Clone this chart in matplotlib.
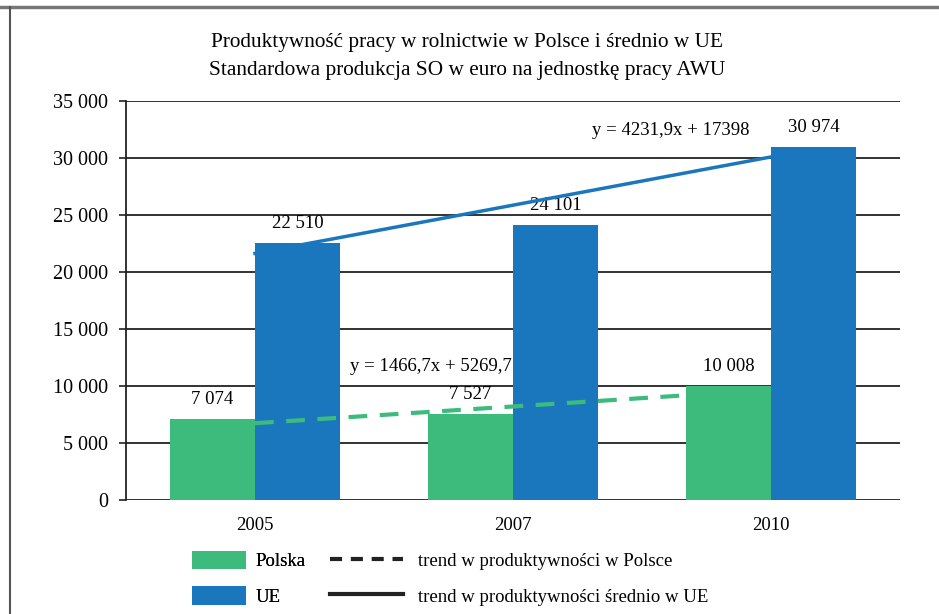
import matplotlib.pyplot as plt
import numpy as np
from matplotlib.lines import Line2D
from matplotlib.patches import Patch

plt.rcParams["font.family"] = ["Liberation Serif", "DejaVu Serif"]

years = ["2005", "2007", "2010"]
polska = [7074, 7527, 10008]
ue = [22510, 24101, 30974]
labels_polska = ["7 074", "7 527", "10 008"]
labels_ue = ["22 510", "24 101", "30 974"]

# linear trends, x = 1, 2, 3
trend_pl = (1466.7, 5269.7)
trend_ue = (4231.9, 17398)
eq_pl = "y = 1466,7x + 5269,7"
eq_ue = "y = 4231,9x + 17398"

yticks = [0, 5000, 10000, 15000, 20000, 25000, 30000, 35000]
ytick_labels = ["0", "5 000", "10 000", "15 000", "20 000", "25 000", "30 000", "35 000"]

GREEN = "#3dbb7d"
BLUE = "#1a77bd"
W, H = 939, 614

fig = plt.figure(figsize=(W / 100, H / 100), dpi=100)
ax = fig.add_axes([126 / W, (H - 500) / H, (900 - 126) / W, 399 / H])

x = np.arange(len(years))
bw = 0.33
ax.bar(x - bw / 2, polska, bw, color=GREEN, zorder=3)
ax.bar(x + bw / 2, ue, bw, color=BLUE, zorder=3)

for i in range(len(years)):
    ax.annotate(labels_polska[i], (x[i] - bw / 2, polska[i]), xytext=(0, 8),
                textcoords="offset points", ha="center", va="bottom", fontsize=13.5)
    ax.annotate(labels_ue[i], (x[i] + bw / 2, ue[i]), xytext=(0, 8),
                textcoords="offset points", ha="center", va="bottom", fontsize=13.5)

xt = np.array([1, 3])
ax.plot(xt - 1, trend_pl[0] * xt + trend_pl[1], color=GREEN, lw=3,
        dashes=(4.5, 3), zorder=4)
ax.plot(xt - 1, trend_ue[0] * xt + trend_ue[1], color=BLUE, lw=2.5, zorder=4)

ax.text(1.61, 32400, eq_ue, ha="center", va="center", fontsize=13.5)
ax.text(0.68, 11700, eq_pl, ha="center", va="center", fontsize=13.5)

ax.set_xlim(-0.5, 2.5)
ax.set_ylim(0, 35000)
ax.set_yticks(yticks)
ax.set_yticklabels(ytick_labels, fontsize=14.5)
ax.set_xticks(x)
ax.set_xticklabels(years, fontsize=13.5)
ax.tick_params(axis="x", length=0, pad=12)
ax.tick_params(axis="y", length=5, width=1.2, color="#222222", pad=8)
ax.grid(axis="y", color="#222222", lw=1.3, zorder=1)
for s in ["top", "right", "bottom"]:
    ax.spines[s].set_visible(False)
ax.spines["left"].set_linewidth(1.3)
ax.spines["left"].set_color("#222222")
ax.spines["left"].set_zorder(2)

fig.text(467 / W, 1 - 42 / H, "Produktywność pracy w rolnictwie w Polsce i średnio w UE",
         ha="center", va="center", fontsize=15.3)
fig.text(467 / W, 1 - 70 / H, "Standardowa produkcja SO w euro na jednostkę pracy AWU",
         ha="center", va="center", fontsize=15.3)

# legend: bars and trend lines as two separate columns
leg1 = fig.legend(handles=[Patch(facecolor=GREEN, lw=0, label="Polska"),
                           Patch(facecolor=BLUE, lw=0, label="UE")],
                  loc="upper left", bbox_to_anchor=(192 / W, 1 - 551 / H), frameon=False,
                  fontsize=13.5, handlelength=2.9, handleheight=1.12, labelspacing=0.85,
                  handletextpad=0.5, borderpad=0, borderaxespad=0)
fig.legend(handles=[Line2D([], [], color="#222222", lw=3, dashes=(2.9, 2.1),
                           label="trend w produktywności w Polsce"),
                    Line2D([], [], color="#222222", lw=3,
                           label="trend w produktywności średnio w UE")],
           loc="upper left", bbox_to_anchor=(330 / W, 1 - 551 / H), frameon=False,
           fontsize=13.5, handlelength=3.9, handleheight=1.12, labelspacing=0.85,
           handletextpad=0.8, borderpad=0, borderaxespad=0)
fig.add_artist(leg1)

# page frame
fig.add_artist(Line2D([0, 1], [1 - 7 / H, 1 - 7 / H], color="#777777", lw=2.5,
                      transform=fig.transFigure))
fig.add_artist(Line2D([9.5 / W, 9.5 / W], [0, 1 - 7 / H], color="#555555", lw=1.5,
                      transform=fig.transFigure))

fig.savefig("out.png", dpi=100)
